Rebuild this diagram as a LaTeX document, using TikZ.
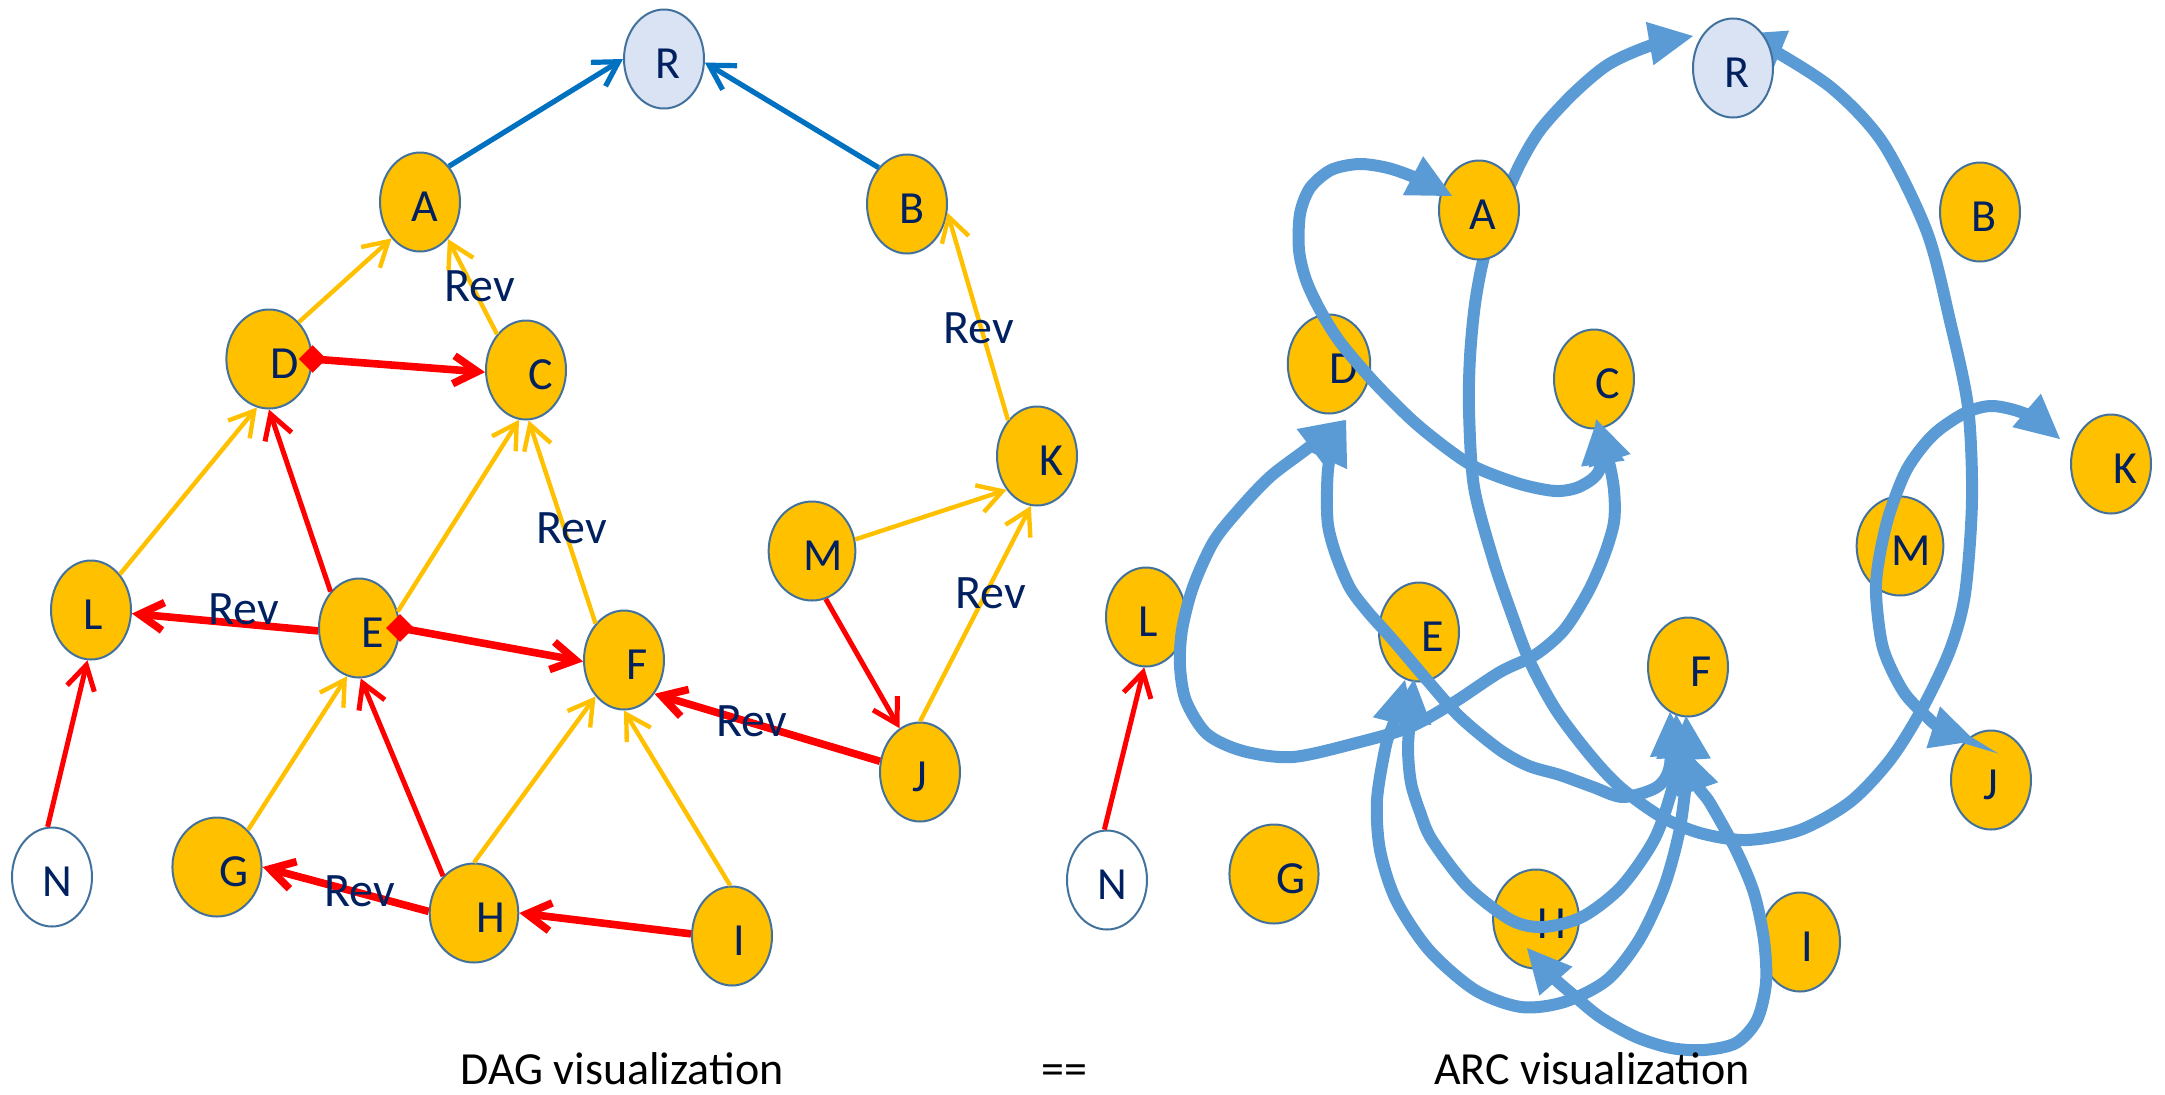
\documentclass[tikz,border=0pt]{standalone}
\usepackage{fontspec}
\setmainfont{Carlito}
\usetikzlibrary{shapes.geometric,arrows.meta}
\definecolor{nodeorange}{HTML}{FFC000}
\definecolor{nodeborder}{HTML}{41719C}
\definecolor{rootfill}{HTML}{DAE3F3}
\definecolor{navy}{HTML}{002060}
\definecolor{edgeblue}{HTML}{0070C0}
\definecolor{edgeyellow}{HTML}{FFC000}
\definecolor{edgered}{HTML}{FF0000}
\definecolor{arcblue}{HTML}{5B9BD5}
\newcommand\nlab[2]{\hspace*{#1pt}\smash{\raisebox{-2.5pt}{#2}}\vphantom{A}}
\begin{document}
\begin{tikzpicture}[x=0.5pt,y=-0.5pt,
  vnode/.style={ellipse, draw=nodeborder, line width=1pt, fill=nodeorange,
    minimum width=40pt, minimum height=49.5pt, inner sep=0pt, text=navy,
    font=\fontsize{23}{23}\selectfont},
  rootnode/.style={vnode, fill=rootfill},
  leafnode/.style={vnode, fill=white},
  barb/.style={-{Straight Barb[length=12pt,width=14pt]}},
  treeedge/.style={barb, draw=edgeblue, line width=2.6pt},
  yedge/.style={barb, draw=edgeyellow, line width=2.2pt},
  redthin/.style={barb, draw=edgered, line width=2.5pt},
  redthick/.style={barb, draw=edgered, line width=3.8pt},
  redmark/.style={diamond, fill=edgered, minimum width=14pt, minimum height=14pt, inner sep=0pt},
  revlab/.style={text=navy, font=\fontsize{24}{24}\selectfont, inner sep=0pt},
  caption/.style={text=black, font=\fontsize{23}{23}\selectfont, inner sep=0pt, anchor=base},
  arcline/.style={draw=arcblue, line width=6pt,
    {Triangle[length=22pt,width=22pt,line width=0pt]}-{Triangle[length=22pt,width=22pt,line width=0pt]}}
]
\useasboundingbox (0,0) rectangle (2165,1094);

% ---------------- DAG visualization (left) ----------------
\node[rootnode] (lR) at (664,59) {\nlab{4}{R}};
\node[vnode] (lA) at (420,202) {\nlab{5}{A}};
\node[vnode] (lB) at (907,204) {\nlab{5}{B}};
\node[vnode] (lD) at (269,359) {\nlab{16}{D}};
\node[vnode] (lC) at (526,370) {\nlab{15}{C}};
\node[vnode] (lK) at (1037,456) {\nlab{14}{K}};
\node[vnode] (lM) at (812,551) {\nlab{11}{M}};
\node[vnode] (lL) at (91,610) {\nlab{2}{L}};
\node[vnode] (lE) at (359,628) {\nlab{14}{E}};
\node[vnode] (lF) at (624,660) {\nlab{13}{F}};
\node[vnode] (lJ) at (920,772) {\nlab{0}{J}};
\node[leafnode] (lN) at (52,877) {\nlab{5}{N}};
\node[vnode] (lG) at (217,867) {\nlab{17}{G}};
\node[vnode] (lH) at (474,913) {\nlab{17}{H}};
\node[vnode] (lI) at (732,936) {\nlab{7}{I}};

\draw[treeedge] (lA.51) -- (lR.180);
\draw[treeedge] (lB.128) -- (lR.355);
\draw[yedge] (lD.51) -- (lA.232);
\draw[yedge] (lC.129) -- (lA.307);
\draw[redthick] (lD.east) -- (lC.183);
\draw[yedge] (lL.51) -- (lD.256);
\draw[redthin] (lE.128) -- (lD.270);
\draw[yedge] (lE.23) -- (lC.262);
\draw[yedge] (lF.128) -- (lC.273);
\draw[redthick] (lE.184) -- (lL.355);
\draw[redthick] (lE.east) -- (lF.182);
\draw[redthin] (lN.95) -- (lL.266);
\draw[yedge] (lG.50) -- (lE.256);
\draw[redthin] (lH.130) -- (lE.272);
\draw[yedge] (lH.90) -- (lF.232);
\draw[yedge] (lI.92) -- (lF.270);
\draw[redthick] (lH.178) -- (lG.0);
\draw[redthick] (lI.177) -- (lH.0);
\draw[redthick] (lJ.165) -- (lF.312);
\draw[redthin] (lM.286) -- (lJ.115);
\draw[yedge] (lM.15) -- (lK.228);
\draw[yedge] (lJ.90) -- (lK.263);
\draw[yedge] (lK.129) -- (lB.348);

\node[redmark] (mD) at (lD.east) {};
\node[redmark] (mE) at (lE.east) {};

\node[revlab] (rev1) at (480,286) {Rev};
\node[revlab] (rev2) at (979,328) {Rev};
\node[revlab] (rev3) at (572,528) {Rev};
\node[revlab] (rev4) at (244,609) {Rev};
\node[revlab] (rev5) at (752,721) {Rev};
\node[revlab] (rev6) at (991,593) {Rev};
\node[revlab] (rev7) at (360,891) {Rev};

% ---------------- ARC visualization (right) ----------------
\node[vnode] (rB) at (1980,212) {\nlab{4}{B}};
\node[vnode] (rD) at (1329,364) {\nlab{15}{D}};
\node[vnode] (rC) at (1594,379) {\nlab{14}{C}};
\node[vnode] (rK) at (2111,464) {\nlab{14}{K}};
\node[vnode] (rM) at (1900,546) {\nlab{11}{M}};
\node[vnode] (rL) at (1146,617) {\nlab{2}{L}};
\node[vnode] (rE) at (1419,632) {\nlab{14}{E}};
\node[vnode] (rF) at (1688,667) {\nlab{13}{F}};
\node[vnode] (rJ) at (1991,780) {\nlab{0}{J}};
\node[leafnode] (rN) at (1107,880) {\nlab{5}{N}};
\node[vnode] (rG) at (1274,874) {\nlab{17}{G}};
\node[vnode] (rH) at (1536,919) {\nlab{16}{H}};
\node[vnode] (rI) at (1800,942) {\nlab{7}{I}};

\draw[redthin] (rN.93) -- (rL.268);

\coordinate (tRl) at (1693,36);
\coordinate (tRr) at (1740,34);
\draw[arcline] plot[smooth] coordinates {(tRl) (1652,45) (1609,64) (1574,93) (1541,129) (1520,164)
  (1500,210) (1484,257) (1475,304) (1470,357) (1469,411) (1474,487) (1493,559) (1511,612)
  (1530,662) (1556,710) (1590,755) (1620,787) (1660,816) (1700,833) (1747,840) (1800,830)
  (1850,802) (1890,760) (1922,709) (1950,650) (1965,594) (1972,500) (1968,407) (1950,321)
  (1927,232) (1883,143) (1833,89) (1773,50) (tRr)};

\node[rootnode] (rR) at (1733,68) {\nlab{4}{R}};
\node[vnode] (rA) at (1479,210) {\nlab{4}{A}};

\coordinate (tA) at (1452,196);
\coordinate (tC1) at (1597,420);
\coordinate (tC2) at (1596,419);
\coordinate (tD1) at (1345,420);
\coordinate (tD2) at (1346,420);
\coordinate (tF1) at (1670,712);
\coordinate (tF2) at (1676,714);
\coordinate (tF3) at (1686,716);
\coordinate (tF4) at (1683,748);
\coordinate (tE1) at (1414,679);
\coordinate (tE2) at (1405,680);
\coordinate (tH) at (1527,948);
\coordinate (tK) at (2060,439);
\coordinate (tJ) at (1975,741);

\draw[arcline] plot[smooth] coordinates {(tA) (1416,178) (1388,168) (1359,164) (1331,170) (1310,188)
  (1300,214) (1299,250) (1306,280) (1320,310) (1340,342) (1374,382) (1413,421) (1449,450)
  (1477,468) (1520,484) (1556,491) (1581,486) (1600,468) (tC1)};

\draw[arcline] plot[smooth] coordinates {(tC2) (1608,458) (1614,490) (1614,522) (1604,556) (1588,592)
  (1564,630) (1535,655) (1500,672) (1453,703) (1410,727) (1360,742) (1293,757) (1243,751)
  (1207,734) (1186,701) (1180,666) (1182,630) (1193,587) (1214,541) (1243,505) (1271,476)
  (1304,451) (tD1)};

\draw[arcline] plot[smooth] coordinates {(tD2) (1330,458) (1327,490) (1328,525) (1336,555) (1350,588)
  (1368,612) (1393,640) (1427,680) (1460,717) (1500,750) (1529,766) (1560,775) (1593,787)
  (1623,797) (1657,787) (1670,765) (tF1)};

\draw[arcline] plot[smooth] coordinates {(tE1) (1410,720) (1408,750) (1411,783) (1420,812) (1432,840)
  (1468,887) (1511,920) (1543,927) (1582,917) (1621,887) (1654,840) (1671,793) (1677,760) (tF2)};

\draw[arcline] plot[smooth] coordinates {(tE2) (1394,722) (1386,745) (1377,800) (1380,850) (1396,900)
  (1429,950) (1475,990) (1521,1007) (1564,1002) (1607,980) (1639,940) (1664,887) (1679,833)
  (1686,783) (1688,755) (tF3)};

\draw[arcline] plot[smooth] coordinates {(tH) (1553,977) (1571,993) (1600,1017) (1636,1037) (1671,1048)
  (1704,1050) (1736,1043) (1757,1020) (1766,983) (1764,940) (1754,893) (1736,850) (1710,803)
  (1697,785) (tF4)};

\draw[arcline] plot[smooth] coordinates {(tK) (2028,415) (1993,406) (1965,413) (1933,435) (1907,469)
  (1889,515) (1879,559) (1876,594) (1883,648) (1903,691) (1926,716) (1942,729) (tJ)};

% ---------------- captions ----------------
\node[caption] (cap1) at (622,1084) {DAG visualization};
\node[caption] (cap2) at (1064,1084) {==};
\node[caption] (cap3) at (1592,1084) {ARC visualization};
\end{tikzpicture}
\end{document}
